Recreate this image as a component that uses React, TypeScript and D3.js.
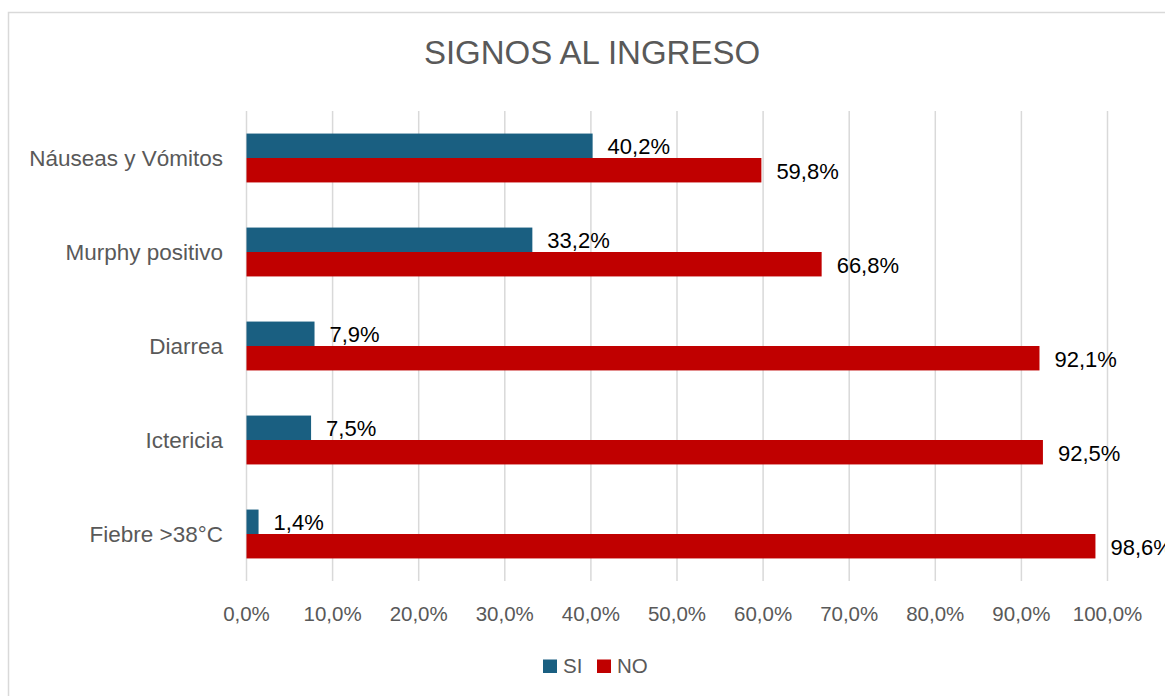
import React, { useEffect, useRef } from "react";
import * as d3 from "d3";

const categories = ["Náuseas y Vómitos", "Murphy positivo", "Diarrea", "Ictericia", "Fiebre >38°C"];
const seriesNames = ["SI", "NO"];
const siValues = [40.2, 33.2, 7.9, 7.5, 1.4];
const noValues = [59.8, 66.8, 92.1, 92.5, 98.6];
const xTicks = [0, 10, 20, 30, 40, 50, 60, 70, 80, 90, 100];
const colors = ["#1a5f81", "#c00000"];

const fmt = (v: number) => v.toFixed(1).replace(".", ",") + "%";

const App = () => {
  const ref = useRef<SVGSVGElement>(null);

  useEffect(() => {
    drawChart();
  }, []);

  const drawChart = () => {
    const font = "'Liberation Sans', Arial, sans-serif";
    const grey = "#595959";

    const svg = d3.select(ref.current);
    svg.selectAll("*").remove();

    // outer frame of the chart, runs off the page right and bottom
    svg.append("rect")
      .attr("x", 8.5).attr("y", 12.5)
      .attr("width", 1300).attr("height", 800)
      .attr("fill", "#fff").attr("stroke", "#d9d9d9").attr("stroke-width", 1.5);

    const left = 246.5, right = 1107.5, top = 111, bottom = 581;

    const x = d3.scaleLinear().domain([0, 100]).range([left, right]);
    const y = d3.scaleBand<string>().domain(categories).range([top, bottom])
      .paddingInner(0.48).paddingOuter(0.24);
    const ySub = d3.scaleBand<string>().domain(seriesNames).range([0, y.bandwidth()]);

    // gridlines
    svg.append("g").selectAll("line")
      .data(xTicks)
      .enter()
      .append("line")
      .attr("x1", d => x(d)).attr("x2", d => x(d))
      .attr("y1", top).attr("y2", bottom)
      .attr("stroke", "#d9d9d9").attr("stroke-width", 1.5);

    // x tick labels
    svg.append("g").selectAll("text")
      .data(xTicks)
      .enter()
      .append("text")
      .attr("x", d => x(d))
      .attr("y", 621)
      .attr("text-anchor", "middle")
      .attr("font-family", font).attr("font-size", 20.5)
      .attr("fill", grey)
      .text(d => fmt(d));

    // category labels
    svg.append("g").selectAll("text")
      .data(categories)
      .enter()
      .append("text")
      .attr("x", 223)
      .attr("y", d => (y(d) as number) + y.bandwidth() / 2 + 8)
      .attr("text-anchor", "end")
      .attr("font-family", font).attr("font-size", 22.5)
      .attr("fill", grey)
      .text(d => d);

    const series = [siValues, noValues];
    series.forEach((vals, si) => {
      const g = svg.append("g");
      g.selectAll("rect")
        .data(vals)
        .enter()
        .append("rect")
        .attr("x", x(0))
        .attr("y", (d, i) => (y(categories[i]) as number) + (ySub(seriesNames[si]) as number))
        .attr("width", d => x(d) - x(0))
        .attr("height", ySub.bandwidth())
        .attr("fill", colors[si]);
      g.selectAll("text")
        .data(vals)
        .enter()
        .append("text")
        .attr("x", d => x(d) + 15)
        .attr("y", (d, i) => (y(categories[i]) as number) + (ySub(seriesNames[si]) as number) + ySub.bandwidth() / 2 + 8.5)
        .attr("font-family", font).attr("font-size", 22)
        .attr("fill", "#000")
        .text(d => fmt(d));
    });

    // title
    svg.append("text")
      .attr("x", 592).attr("y", 64)
      .attr("text-anchor", "middle")
      .attr("font-family", font).attr("font-size", 33)
      .attr("fill", grey)
      .text("SIGNOS AL INGRESO");

    // legend
    const legendX = [543, 597];
    seriesNames.forEach((s, i) => {
      svg.append("rect")
        .attr("x", legendX[i]).attr("y", 659.5)
        .attr("width", 14).attr("height", 13.5)
        .attr("fill", colors[i]);
      svg.append("text")
        .attr("x", legendX[i] + 20).attr("y", 673)
        .attr("font-family", font).attr("font-size", 20.5)
        .attr("fill", grey)
        .text(s);
    });
  };

  return (
    <svg ref={ref} width={1165} height={696}
      style={{ position: "absolute", left: 0, top: 0, background: "#fff" }} />
  );
};

export default App;
